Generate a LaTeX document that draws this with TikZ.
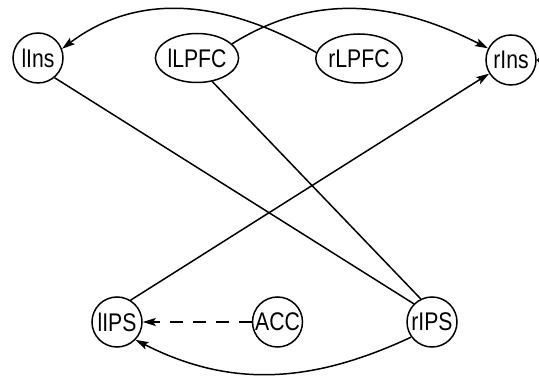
\documentclass[tikz,border=0pt]{standalone}
\usepackage{fontspec}
\setmainfont{Liberation Sans}
\usetikzlibrary{arrows.meta,shapes.geometric}
\newcommand\roitext[1]{\scalebox{0.83}[1]{#1}}
\begin{document}
\begin{tikzpicture}[x=1pt,y=1pt,
  every node/.style={font=\fontsize{25.5}{28}\selectfont},
  roi/.style={draw,circle,line width=1.5pt,inner sep=0pt,minimum size=50pt},
  roiell/.style={draw,ellipse,line width=1.5pt,inner sep=0pt,minimum width=71pt,minimum height=49pt},
  conn/.style={line width=1.5pt},
  tip/.style={-{Stealth[length=13pt,width=8pt,inset=2.5pt]}}]
\useasboundingbox (0,0) rectangle (539,378);
\node[roi] (lIns) at (38,320) {\roitext{lIns}};
\node[roiell] (lLPFC) at (197,320) {\roitext{lLPFC}};
\node[roiell] (rLPFC) at (359,319.5) {\roitext{rLPFC}};
\node[roi] (rIns) at (511,318) {\roitext{rIns}};
\node[roi] (lIPS) at (117,56) {\roitext{lIPS}};
\node[roi] (ACC) at (277.5,56) {\roitext{ACC}};
\node[roi] (rIPS) at (432,56) {\roitext{rIPS}};
\draw[conn,tip] (lLPFC.22) to[out=32,in=153] (rIns.153);
\draw[conn,tip] (rLPFC.172) to[out=150,in=37] (lIns.21);
\draw[conn] (lIns.-50) -- (rIPS.135);
\draw[conn] (lLPFC.-57) -- (rIPS.116);
\draw[conn,tip] (lIPS.58) -- (rIns.-148);
\draw[conn,tip,dash pattern=on 13pt off 10pt] (ACC.west) -- (lIPS.east);
\draw[conn,tip] (rIPS.-144) to[out=-155,in=-27] (lIPS.-44);
\fill (rIns.east) -- ++(4,4) -- ++(0,-9) -- cycle;
\end{tikzpicture}
\end{document}
